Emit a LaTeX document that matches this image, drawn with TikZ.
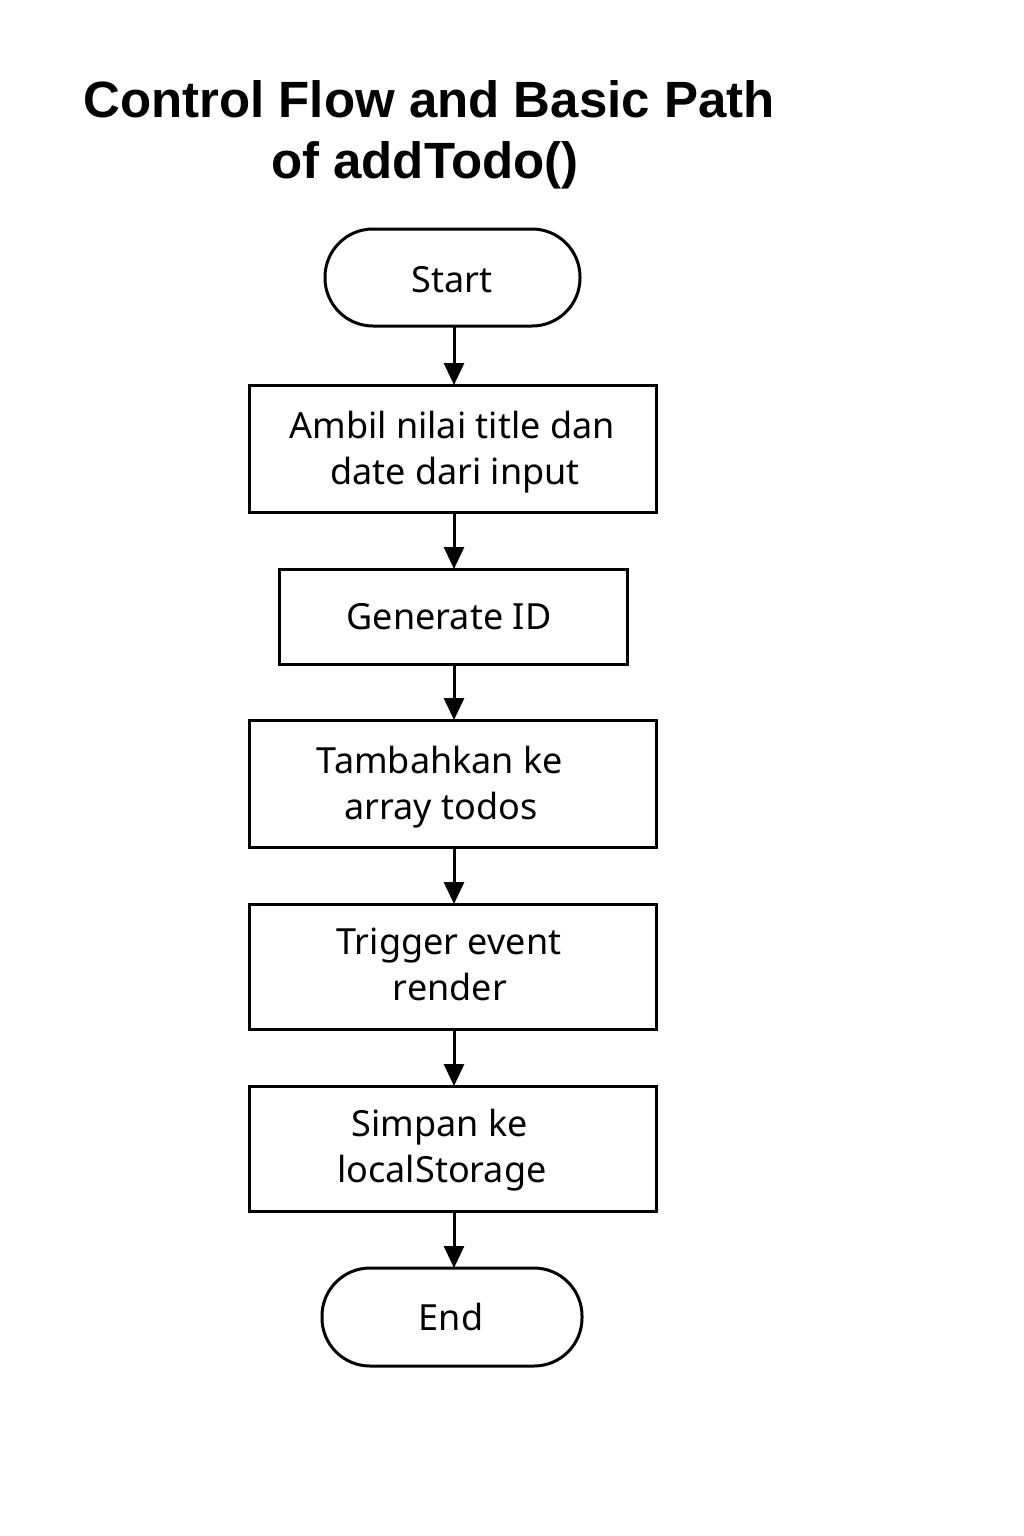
\documentclass[tikz,border=0pt]{standalone}
\usepackage{fontspec}
\setmainfont{Noto Sans}
\newfontfamily\titlefont{Liberation Sans}
\usetikzlibrary{arrows.meta}
\begin{document}
\begin{tikzpicture}[x=1pt,y=-1pt,
  box/.style={draw=black,line width=3pt,fill=white,inner sep=0pt},
  term/.style={box,rounded corners=48pt},
  lbl/.style={font=\fontsize{36}{46}\selectfont,align=center,inner sep=0pt},
  conn/.style={line width=3pt,-{Triangle[width=20pt,length=22pt]}}]
\useasboundingbox[fill=white] (0,0) rectangle (1024,1536);
\node[font=\titlefont\bfseries\fontsize{51}{60}\selectfont,anchor=base] (t1) at (429,118) {Control Flow and Basic Path};
\node[font=\titlefont\bfseries\fontsize{51}{60}\selectfont,anchor=base] (t2) at (425,178) {of addTodo()};
% shapes
\draw[term] (325,229) rectangle (580,326);
\draw[box] (249,385) rectangle (656,512);
\draw[box] (279,569) rectangle (627,664);
\draw[box] (249,720) rectangle (656,847);
\draw[box] (249,904) rectangle (656,1029);
\draw[box] (249,1086) rectangle (656,1211);
\draw[term] (322,1268) rectangle (582,1366);
% connector anchors
\coordinate (sT) at (454,326);
\coordinate (b1T) at (454,385); \coordinate (b1B) at (454,512);
\coordinate (b2T) at (454,569); \coordinate (b2B) at (454,664);
\coordinate (b3T) at (454,720); \coordinate (b3B) at (454,847);
\coordinate (b4T) at (454,904); \coordinate (b4B) at (454,1029);
\coordinate (b5T) at (454,1086); \coordinate (b5B) at (454,1211);
\coordinate (eT) at (454,1268);
% labels
\node[lbl,anchor=base] (start) at (452,292) {Start};
\node[lbl,anchor=base] (l1a) at (452,438) {Ambil nilai title dan};
\node[lbl,anchor=base] (l1b) at (455,484) {date dari input};
\node[lbl,anchor=base] (l2) at (449,629) {Generate ID};
\node[lbl,anchor=base] (l3a) at (440,773) {Tambahkan ke};
\node[lbl,anchor=base] (l3b) at (441,819) {array todos};
\node[lbl,anchor=base] (l4a) at (449,954) {Trigger event};
\node[lbl,anchor=base] (l4b) at (450,1000) {render};
\node[lbl,anchor=base] (l5a) at (440,1136) {Simpan ke};
\node[lbl,anchor=base] (l5b) at (442,1182) {localStorage};
\node[lbl,anchor=base] (end) at (451,1330) {End};
% connectors
\draw[conn] (sT) -- (b1T);
\draw[conn] (b1B) -- (b2T);
\draw[conn] (b2B) -- (b3T);
\draw[conn] (b3B) -- (b4T);
\draw[conn] (b4B) -- (b5T);
\draw[conn] (b5B) -- (eT);
\end{tikzpicture}
\end{document}
